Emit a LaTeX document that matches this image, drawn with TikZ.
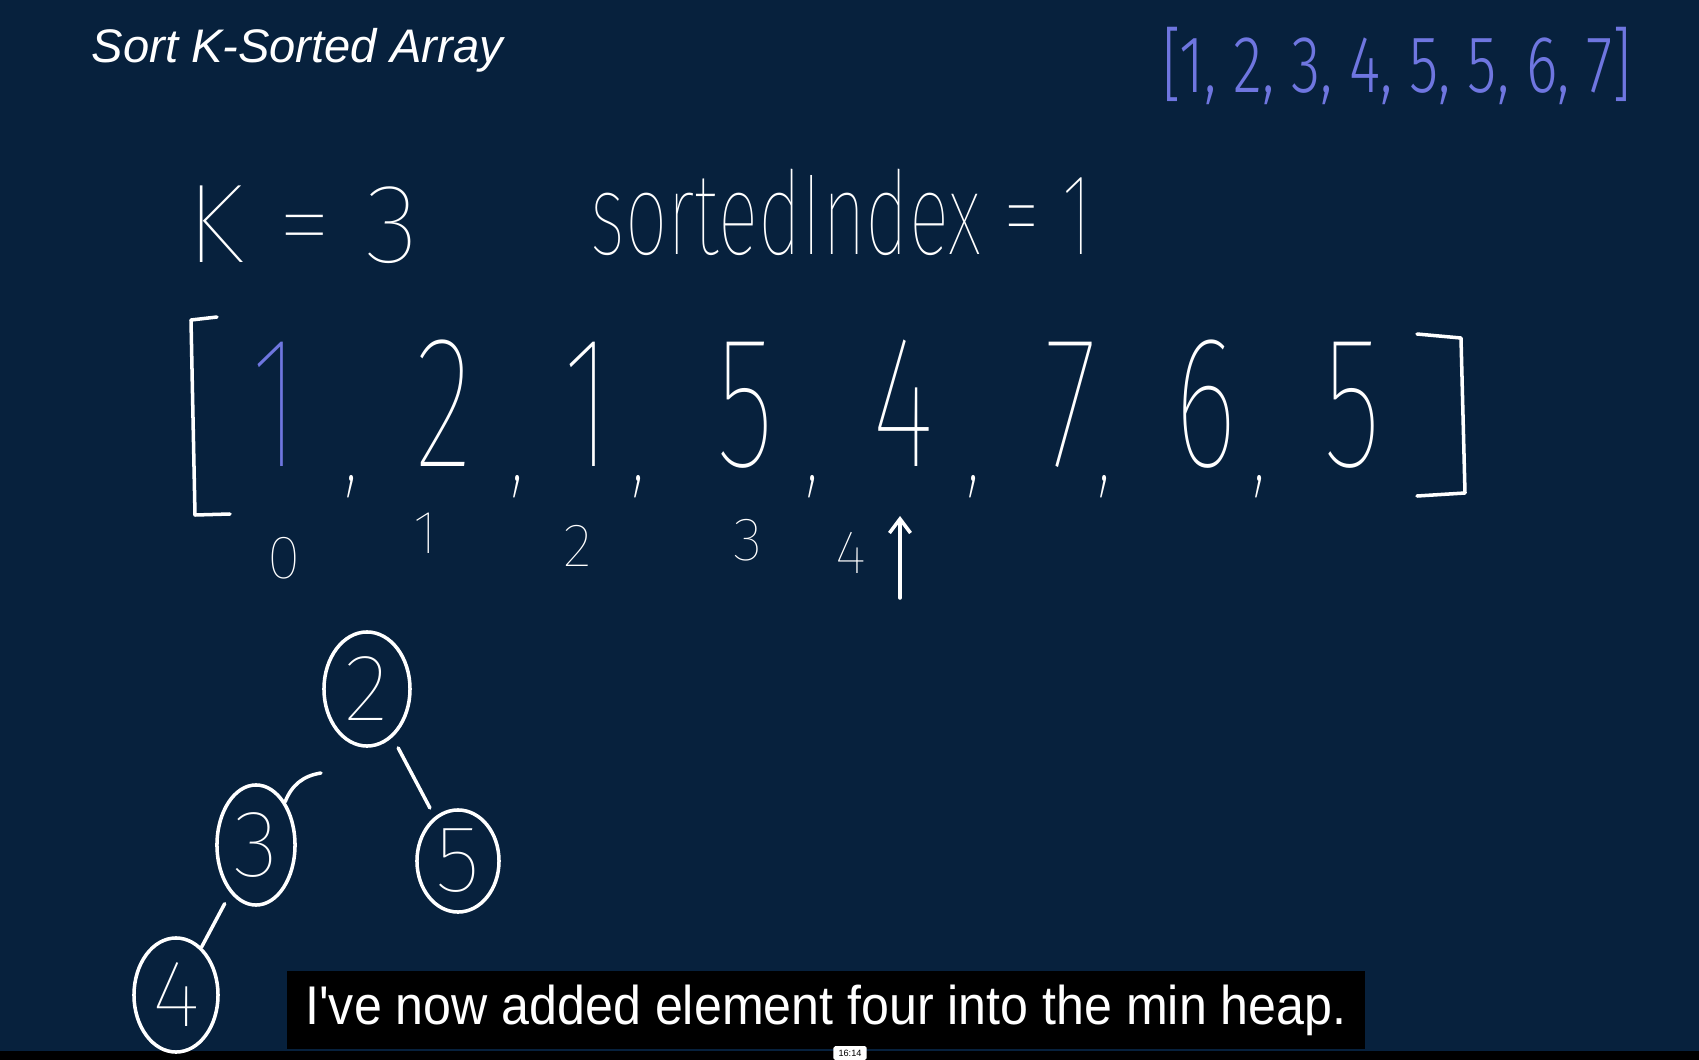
\documentclass[tikz,border=0pt]{standalone}
\usepackage{fontspec}
\usetikzlibrary{shapes.geometric, arrows.meta, positioning}
\newfontfamily\arialfont{Liberation Sans}
\newfontfamily\captionfont[FakeStretch=0.92]{Liberation Sans}
\newfontfamily\handfont{Fira Sans Thin}
\newfontfamily\narrowhand[FakeStretch=0.65]{Fira Sans Thin}
\newfontfamily\answerhand[FakeStretch=0.74]{Fira Sans Light}
\newcommand\inkcomma{\raisebox{-4pt}{\fontsize{38pt}{38pt}\selectfont,}}
\definecolor{BoardBlue}{HTML}{07213D}
\definecolor{InkBlue}{HTML}{6F76E0}

\begin{document}
\begin{tikzpicture}[x=0.01cm, y=-0.01cm,
    ink/.style={text=white, inner sep=0pt, font=\handfont\fontsize{#1}{#1}\selectfont},
    narrowink/.style={text=white, inner sep=0pt, font=\narrowhand\fontsize{#1}{#1}\selectfont},
    inkline/.style={draw=white, line width=1pt, line cap=round, line join=round},
    heapnode/.style={ellipse, draw=white, line width=1pt, inner sep=0pt,
      text=white, font=\handfont\fontsize{27pt}{27pt}\selectfont},
    heapedge/.style={inkline}]
  % board
  \fill[BoardBlue] (0,0) rectangle (1699,1060);
  \fill[black] (0,1051) rectangle (1699,1060);

  % headings
  \node[anchor=west, inner sep=0pt, text=white, font=\arialfont\itshape\fontsize{13.4pt}{16pt}\selectfont]
    (title) at (91,50) {Sort K-Sorted Array};
  \node[inner sep=0pt, text=InkBlue, font=\answerhand\fontsize{23pt}{23pt}\selectfont]
    (answer) at (1397,66) {[1, 2, 3, 4, 5, 5, 6, 7]};
  \node[ink=32pt, anchor=base west] (kval) at (186,262) {K = 3};
  \node[narrowink=33pt, anchor=base west] (sortedidx) at (590,254) {sortedIndex = 1};

  % array
  \draw[inkline] (217,317) -- (191,320) -- (195,515) -- (230,514);
  \draw[inkline] (1417,334) -- (1461,338) -- (1465,493) -- (1417,496);
  \node[narrowink=53.5pt, anchor=base west] (a0) at (251,466)
    {\textcolor{InkBlue}{1}\hspace{12.8pt}\inkcomma};
  \foreach \v/\x/\k [count=\i] in {2/444/10.9pt, 1/592/5.7pt, 5/745/8.9pt, 4/901/9.1pt,
      7/1073/0pt, 6/1203/4.3pt}
    \node[narrowink=53.5pt, anchor=base west] (a\i) at ({\x-29},466) {\v\hspace{\k}\inkcomma};
  \node[narrowink=53.5pt, anchor=base] (a7) at (1352,466) {5};

  % indices
  \foreach \v/\x/\y in {0/284/558, 1/426/533, 2/578/546, 3/748/540, 4/851/553}
    \node[ink=17.4pt] (idx\v) at (\x,\y) {\v};
  \coordinate (arrowfoot) at (900,598);
  \coordinate (arrowtip) at (900,516);
  \draw[inkline, -{Straight Barb[length=4pt, width=6pt]}] (arrowfoot) -- (arrowtip);

  % min heap
  \node[heapnode, minimum width=0.86cm, minimum height=1.14cm] (h2) at (367,689) {2};
  \node[heapnode, minimum width=0.78cm, minimum height=1.2cm] (h3) at (256,845) {3};
  \node[heapnode, minimum width=0.82cm, minimum height=1.02cm] (h5) at (458,861) {5};
  \node[heapnode, minimum width=0.84cm, minimum height=1.14cm] (h4) at (176,995) {4};
  \coordinate (leftbranch) at (321,773);
  \draw[heapedge] (leftbranch) to[bend right=30] (h3.56);
  \draw[heapedge, shorten <=0.12cm, shorten >=0.1cm] (h2) -- (h5);
  \draw[heapedge, shorten <=0.12cm] (h3) -- (h4);

  % caption
  \node[fill=black, text=white, minimum width=10.77cm, minimum height=0.77cm, inner sep=0pt,
    font=\captionfont\fontsize{15.5pt}{18pt}\selectfont] (caption) at (826,1010)
    {I've now added element four into the min heap.};
  \node[fill=white, rounded corners=0.5pt, minimum width=0.33cm, minimum height=0.14cm, inner sep=0pt,
    font=\arialfont\fontsize{2.6pt}{3pt}\selectfont] (stamp) at (850,1053) {16:14};
\end{tikzpicture}
\end{document}
